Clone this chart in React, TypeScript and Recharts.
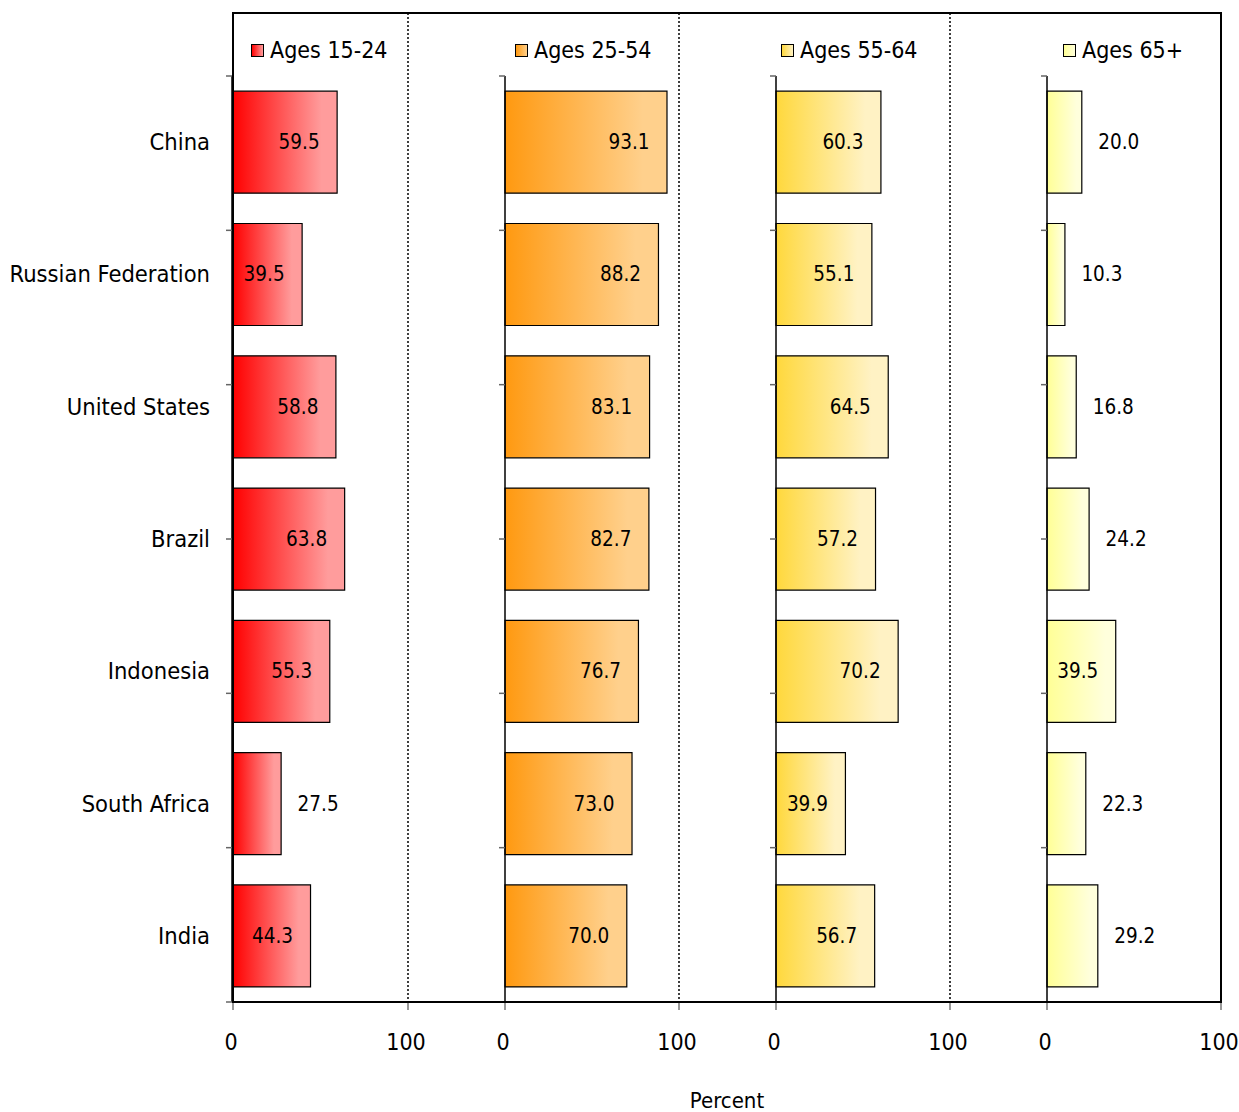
import React from 'react';
import { BarChart, Bar, XAxis, YAxis, LabelList, Legend } from 'recharts';

const categories = ['China', 'Russian Federation', 'United States', 'Brazil', 'Indonesia', 'South Africa', 'India'];
const ages15to24 = [59.5, 39.5, 58.8, 63.8, 55.3, 27.5, 44.3];
const ages25to54 = [93.1, 88.2, 83.1, 82.7, 76.7, 73.0, 70.0];
const ages55to64 = [60.3, 55.1, 64.5, 57.2, 70.2, 39.9, 56.7];
const ages65plus = [20.0, 10.3, 16.8, 24.2, 39.5, 22.3, 29.2];
const seriesNames = ['Ages 15-24', 'Ages 25-54', 'Ages 55-64', 'Ages 65+'];
const xTicks = [0, 100];
const categoryBoundaries = [0, 1, 2, 3, 4, 5, 6, 7];
const axisTitle = 'Percent';

const seriesValues = [ages15to24, ages25to54, ages55to64, ages65plus];
const gradients = [
  ['#FF0000', '#FF9C9C'],
  ['#FF9910', '#FFD08C'],
  ['#FFD83C', '#FFF2C4'],
  ['#FFFF96', '#FFFFDC'],
];

const FONT = "Tahoma, 'DejaVu Sans Condensed', 'DejaVu Sans', sans-serif";
const PLOT_LEFT = [233, 505, 776, 1047];
const PLOT_WIDTH = [175, 174, 174, 174];
const LEGEND_LEFT = [251, 515, 781, 1063];
const PLOT_TOP = 76;
const PLOT_BOTTOM = 1002;
const PAGE_H = 1112;

const renderValueLabel = (props: any) => {
  const { x, y, width, height, value } = props;
  const inside = value >= 35;
  const cx = inside ? x + width - 38 : x + width + 37;
  return (
    <text x={cx} y={y + height / 2} textAnchor="middle" dominantBaseline="central" fontSize={20.5} fontFamily={FONT} fill="#000">
      {Number(value).toFixed(1)}
    </text>
  );
};

const renderCategoryTick = (props: any) => {
  const { x, y, payload } = props;
  return (
    <text x={x} y={y} textAnchor="end" dominantBaseline="central" fontSize={23.5} fontFamily={FONT} fill="#000">
      {payload.value}
    </text>
  );
};

function Panel({ index }: { index: number }) {
  const first = index === 0;
  const yAxisSpace = first ? 233 : 20;
  const chartLeft = PLOT_LEFT[index] - yAxisSpace;
  const rightMargin = 30;
  const width = yAxisSpace + PLOT_WIDTH[index] + rightMargin;
  const data = categories.map((c, i) => ({ name: c, value: seriesValues[index][i] }));
  const gid = `grad${index}`;
  const [c1, c2] = gradients[index];
  const legendContent = () => (
    <div style={{ display: 'flex', alignItems: 'center', fontFamily: FONT, fontSize: 23, color: '#000', whiteSpace: 'nowrap' }}>
      <span style={{ display: 'inline-block', width: 11, height: 11, border: '1px solid #000', background: `linear-gradient(to right, ${c1}, ${c2})`, marginRight: 6 }} />
      <span>{seriesNames[index]}</span>
    </div>
  );
  return (
    <div style={{ position: 'absolute', left: chartLeft, top: 0 }}>
      <BarChart
        width={width}
        height={PAGE_H}
        data={data}
        layout="vertical"
        margin={{ top: PLOT_TOP, bottom: PAGE_H - PLOT_BOTTOM - 60, left: first ? 231 : 19, right: rightMargin }}
        barCategoryGap="11.5%"
      >
        <defs>
          <linearGradient id={gid} x1="0" y1="0" x2="1" y2="0">
            <stop offset="0%" stopColor={c1} />
            <stop offset="85%" stopColor={c2} />
            <stop offset="100%" stopColor={c2} />
          </linearGradient>
        </defs>
        <XAxis
          type="number"
          domain={[0, 100]}
          ticks={xTicks}
          axisLine={false}
          tickLine={{ stroke: '#777', strokeWidth: 1.5 }}
          tickSize={8}
          tickMargin={24}
          height={60}
          tick={{ fontSize: 23, fontFamily: FONT, fill: '#000', dx: -2 }}
          interval={0}
        />
        <YAxis
          yAxisId="cat"
          type="category"
          dataKey="name"
          hide={!first}
          width={first ? 1 : 0}
          axisLine={false}
          tickLine={false}
          tickSize={0}
          tickMargin={23}
          interval={0}
          tick={renderCategoryTick}
        />
        <YAxis
          yAxisId="ticks"
          type="number"
          domain={[0, 7]}
          ticks={categoryBoundaries}
          reversed
          width={1}
          tickFormatter={() => ''}
          tickSize={6}
          tickLine={{ stroke: '#666', strokeWidth: 1.5 }}
          axisLine={{ stroke: '#000', strokeWidth: 1.5 }}
          allowDataOverflow
        />
        <Legend
          layout="horizontal"
          verticalAlign="middle"
          align="center"
          content={legendContent}
          wrapperStyle={{ position: 'absolute', top: 37, left: LEGEND_LEFT[index] - chartLeft, width: 'auto' }}
        />
        <Bar
          yAxisId="cat"
          dataKey="value"
          name={seriesNames[index]}
          fill={`url(#${gid})`}
          stroke="#000"
          strokeWidth={1.2}
          isAnimationActive={false}
        >
          <LabelList dataKey="value" content={renderValueLabel} />
        </Bar>
      </BarChart>
    </div>
  );
}

export default function App() {
  return (
    <div style={{ position: 'absolute', left: 0, top: 0, width: 1239, height: PAGE_H, background: '#fff' }}>
      {[0, 1, 2, 3].map((i) => (
        <Panel key={i} index={i} />
      ))}
      <svg width={1239} height={PAGE_H} style={{ position: 'absolute', left: 0, top: 0, pointerEvents: 'none' }}>
        <rect x={233} y={13} width={988} height={989} fill="none" stroke="#000" strokeWidth={2} />
        {[0, 1, 2].map((i) => (
          <line key={i} x1={PLOT_LEFT[i] + PLOT_WIDTH[i]} x2={PLOT_LEFT[i] + PLOT_WIDTH[i]} y1={13} y2={1002} stroke="#000" strokeWidth={1.5} strokeDasharray="2 2" />
        ))}
        <text x={727} y={1100} textAnchor="middle" dominantBaseline="central" fontSize={22} fontFamily={FONT} fill="#000">
          {axisTitle}
        </text>
      </svg>
    </div>
  );
}
